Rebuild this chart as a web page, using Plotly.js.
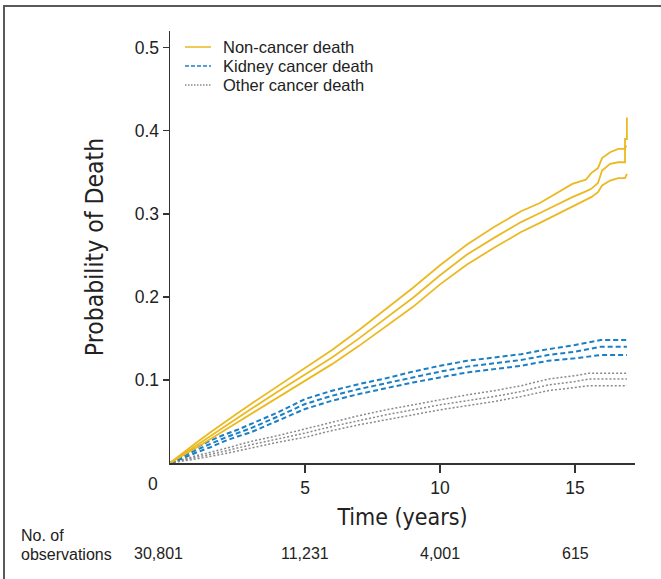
<!DOCTYPE html>
<html>
<head>
<meta charset="utf-8">
<script src="https://cdn.plot.ly/plotly-3.0.1.min.js"></script>
<style>html,body{margin:0;padding:0;background:#fff;}#chart{width:661px;height:579px;}</style>
</head>
<body>
<div id="chart"></div>
<script>
// Time grids (years)
var nonCancerTime = [0, 0.5, 1, 1.5, 2, 2.5, 3, 4, 5, 6, 7, 8, 9, 10, 11, 12, 13, 13.7, 14.3, 14.9, 15.4, 15.6, 15.85, 16.0, 16.3, 16.6, 16.85, 16.85, 16.92, 16.92];
var nonCancerEst   = [0, 0.011, 0.022, 0.033, 0.044, 0.055, 0.065, 0.086, 0.106, 0.127, 0.150, 0.174, 0.199, 0.226, 0.251, 0.271, 0.290, 0.301, 0.311, 0.320, 0.327, 0.330, 0.337, 0.352, 0.360, 0.362, 0.362, 0.381, 0.381, 0.381];
var nonCancerUpper = [0, 0.013, 0.025, 0.037, 0.049, 0.060, 0.071, 0.093, 0.114, 0.136, 0.160, 0.185, 0.211, 0.238, 0.263, 0.284, 0.303, 0.313, 0.324, 0.336, 0.341, 0.349, 0.355, 0.367, 0.374, 0.378, 0.378, 0.390, 0.390, 0.416];
var nonCancerLower = [0, 0.009, 0.019, 0.029, 0.039, 0.050, 0.059, 0.079, 0.099, 0.119, 0.141, 0.164, 0.188, 0.215, 0.239, 0.259, 0.278, 0.289, 0.299, 0.309, 0.317, 0.320, 0.326, 0.334, 0.340, 0.343, 0.343, 0.343, 0.348, 0.348];

var kidneyTime  = [0, 0.5, 1, 1.5, 2, 2.5, 3, 4, 5, 6, 7, 8, 9, 10, 11, 12, 13, 14, 15, 15.95, 16.92];
var kidneyEst   = [0, 0.008, 0.016, 0.023, 0.030, 0.036, 0.042, 0.056, 0.071, 0.081, 0.089, 0.096, 0.103, 0.110, 0.116, 0.120, 0.124, 0.130, 0.134, 0.140, 0.140];
var kidneyUpper = [0, 0.010, 0.019, 0.027, 0.034, 0.040, 0.047, 0.061, 0.077, 0.087, 0.095, 0.102, 0.110, 0.117, 0.123, 0.127, 0.131, 0.137, 0.142, 0.148, 0.148];
var kidneyLower = [0, 0.006, 0.013, 0.019, 0.026, 0.032, 0.037, 0.051, 0.065, 0.075, 0.083, 0.090, 0.097, 0.103, 0.109, 0.113, 0.117, 0.123, 0.126, 0.130, 0.130];

var otherTime  = [0, 1, 2, 3, 4, 5, 6, 7, 8, 9, 10, 11, 12, 13, 14, 15, 15.5, 16.92];
var otherEst   = [0, 0.007, 0.014, 0.022, 0.029, 0.036, 0.044, 0.051, 0.058, 0.064, 0.070, 0.075, 0.080, 0.086, 0.094, 0.098, 0.101, 0.101];
var otherUpper = [0, 0.009, 0.017, 0.026, 0.033, 0.041, 0.049, 0.057, 0.064, 0.070, 0.076, 0.082, 0.087, 0.093, 0.101, 0.105, 0.108, 0.108];
var otherLower = [0, 0.005, 0.011, 0.018, 0.025, 0.031, 0.039, 0.046, 0.052, 0.058, 0.064, 0.069, 0.074, 0.080, 0.087, 0.091, 0.093, 0.093];

var seriesNames = ["Non-cancer death", "Kidney cancer death", "Other cancer death"];
var xTickVals = [5, 10, 15];
var yTickVals = [0.1, 0.2, 0.3, 0.4, 0.5];
var riskTimes = [0, 5, 10, 15];
var riskCounts = ["30,801", "11,231", "4,001", "615"];

var colYellow = "#EBB921", colBlue = "#1B7FC4", colGray = "#8A8A8A";
var seriesColors = [colYellow, colBlue, colGray];
var seriesDash = ["solid", "5px,3px", "2px,2px"];
var seriesWidth = [1.8, 2, 1.5];

function tr(x, y, k) {
  return {x: x, y: y, type: "scatter", mode: "lines", name: seriesNames[k],
    showlegend: false, hoverinfo: "skip",
    line: {color: seriesColors[k], dash: seriesDash[k], width: seriesWidth[k]}};
}

var data = [
  tr(otherTime, otherUpper, 2), tr(otherTime, otherLower, 2), tr(otherTime, otherEst, 2),
  tr(kidneyTime, kidneyUpper, 1), tr(kidneyTime, kidneyLower, 1), tr(kidneyTime, kidneyEst, 1),
  tr(nonCancerTime, nonCancerUpper, 0), tr(nonCancerTime, nonCancerLower, 0), tr(nonCancerTime, nonCancerEst, 0)
];

var narrow = "'Liberation Sans Narrow', 'DejaVu Sans Condensed', Arial, sans-serif";
var sans = "'Liberation Sans', Arial, Helvetica, sans-serif";

var L = 170, R = 635, T = 31, B = 463;
var W = 661, H = 579;
var pw = R - L, ph = B - T;
function px2paperX(p) { return (p - L) / pw; }
function px2paperY(p) { return (B - p) / ph; }

var annotations = [
  {xref: "x", yref: "paper", x: 0, xshift: -17, y: px2paperY(484), text: "0", showarrow: false,
   font: {family: sans, size: 17.5, color: "#222"}, xanchor: "center", yanchor: "middle"},
  {xref: "paper", yref: "paper", x: px2paperX(19), y: px2paperY(535), text: "No. of", showarrow: false,
   font: {family: sans, size: 16, color: "#222"}, xanchor: "left", yanchor: "middle"},
  {xref: "paper", yref: "paper", x: px2paperX(19), y: px2paperY(554), text: "observations", showarrow: false,
   font: {family: sans, size: 16, color: "#222"}, xanchor: "left", yanchor: "middle"}
];
for (var i = 0; i < riskTimes.length; i++) {
  annotations.push({xref: "x", yref: "paper", x: riskTimes[i], xshift: (i === 0 ? -12 : 0),
    y: px2paperY(553), text: riskCounts[i], showarrow: false,
    font: {family: sans, size: 16, color: "#222"}, xanchor: "center", yanchor: "middle"});
}

// Legend (drawn in paper space)
var legendRows = [47, 66, 85];
var shapes = [
  {type: "line", xref: "paper", yref: "paper", x0: px2paperX(4), x1: px2paperX(4),
   y0: px2paperY(6), y1: px2paperY(585), line: {color: "#5a5a5a", width: 2}},
  {type: "line", xref: "paper", yref: "paper", x0: px2paperX(3), x1: px2paperX(670),
   y0: px2paperY(6), y1: px2paperY(6), line: {color: "#5a5a5a", width: 2}}
];
for (var k = 0; k < 3; k++) {
  shapes.push({type: "line", xref: "paper", yref: "paper",
    x0: px2paperX(185), x1: px2paperX(211), y0: px2paperY(legendRows[k]), y1: px2paperY(legendRows[k]),
    line: {color: seriesColors[k], dash: k === 0 ? "solid" : (k === 1 ? "4px,2px" : "1.5px,1.5px"), width: 1.5}});
  annotations.push({xref: "paper", yref: "paper", x: px2paperX(221), y: px2paperY(legendRows[k]),
    text: seriesNames[k], showarrow: false, xanchor: "left", yanchor: "middle",
    font: {family: sans, size: 16.5, color: "#222"}});
}

var layout = {
  width: W, height: H,
  margin: {l: L, r: W - R, t: T, b: H - B, pad: 0},
  paper_bgcolor: "#fff", plot_bgcolor: "#fff",
  showlegend: false,
  xaxis: {range: [0, 17.22], showline: true, linecolor: "#333", linewidth: 1.5,
    showgrid: false, zeroline: false, ticks: "outside", ticklen: 8, tickwidth: 1.5, tickcolor: "#333",
    tickvals: xTickVals, ticktext: xTickVals.map(String),
    tickfont: {family: sans, size: 17.5, color: "#222"},
    title: {text: "Time (years)", font: {family: narrow, size: 23, color: "#222"}, standoff: 12}},
  yaxis: {range: [0, 0.52], showline: true, linecolor: "#333", linewidth: 1.5,
    showgrid: false, zeroline: false, ticks: "outside", ticklen: 6, tickwidth: 1.5, tickcolor: "#333",
    tickvals: yTickVals, ticktext: yTickVals.map(function(v){return v.toFixed(1);}),
    tickfont: {family: sans, size: 17.5, color: "#222"},
    title: {text: "Probability of Death", font: {family: narrow, size: 24.5, color: "#222"}, standoff: 24}},
  annotations: annotations,
  shapes: shapes
};

Plotly.newPlot("chart", data, layout, {displayModeBar: false, staticPlot: true});
</script>
</body>
</html>
